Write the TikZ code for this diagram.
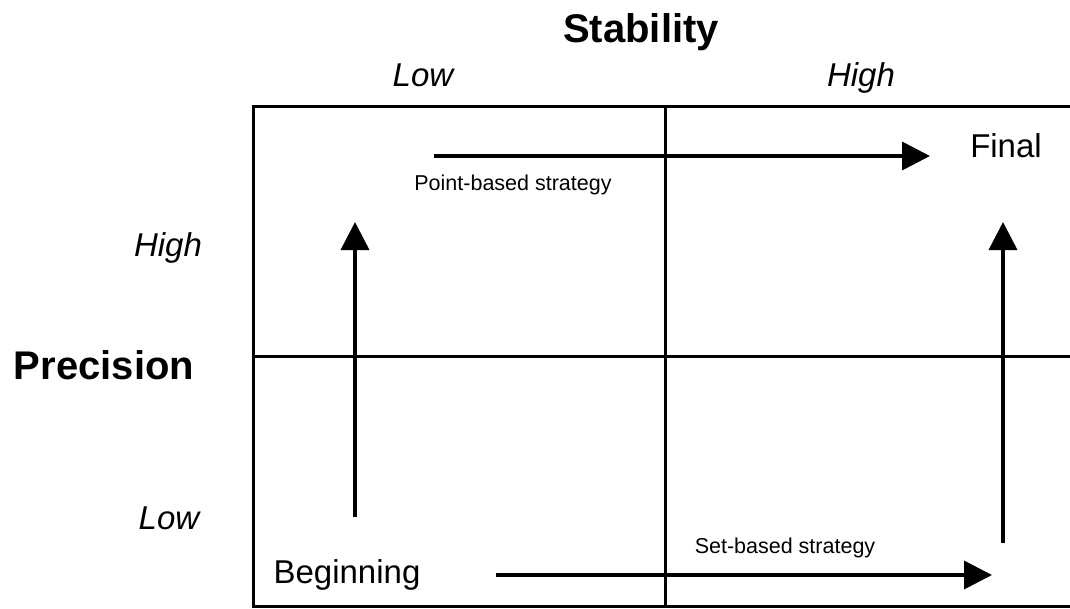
\documentclass[tikz,border=0pt]{standalone}
\usepackage{fontspec}
\setmainfont{Liberation Sans}
\usetikzlibrary{arrows.meta}
\begin{document}
\begin{tikzpicture}[x=1pt,y=-1pt,
  gridline/.style={line width=3pt},
  flow/.style={line width=3.6pt,-{Triangle[length=28pt,width=28pt]}},
  axistitle/.style={anchor=base,font=\fontsize{40}{40}\selectfont\bfseries,inner sep=0pt},
  level/.style={anchor=base,font=\fontsize{33}{33}\selectfont\itshape,inner sep=0pt},
  state/.style={anchor=base,font=\fontsize{33}{33}\selectfont,inner sep=0pt},
  strategy/.style={anchor=base,font=\fontsize{21.5}{21.5}\selectfont,inner sep=0pt}]
\useasboundingbox (0,0) rectangle (1070,608);
\fill[white] (0,0) rectangle (1070,608);

% quadrant grid
\draw[gridline] (253,608) -- (253,106) -- (1070,106);
\draw[gridline] (665,106) -- (665,608);
\draw[gridline] (253,356) -- (1070,356);
\draw[line width=2.4pt] (253,606.5) -- (1070,606.5);

% axis titles and levels
\node[axistitle] (stab) at (641,42) {Stability};
\node[level] (slow) at (423,86) {Low};
\node[level] (shigh) at (861,86) {High};
\node[axistitle] (prec) at (104,379) {Precision};
\node[level] (phigh) at (168,256) {High};
\node[level] (plow) at (169,529) {Low};

% states
\node[state] (final) at (1006,157) {Final};
\node[state] (begin) at (347,583) {Beginning};

% strategies
\coordinate (p0) at (434,156);
\coordinate (p1) at (930,156);
\draw[flow] (p0) -- (p1);
\node[strategy] (plabel) at (513,190) {Point-based strategy};

\coordinate (s0) at (496,575);
\coordinate (s1) at (992,575);
\draw[flow] (s0) -- (s1);
\node[strategy] (slabel) at (785,553) {Set-based strategy};

\coordinate (l0) at (355,517);
\coordinate (l1) at (355,222);
\draw[flow] (l0) -- (l1);

\coordinate (r0) at (1003,543);
\coordinate (r1) at (1003,222);
\draw[flow] (r0) -- (r1);
\end{tikzpicture}
\end{document}
